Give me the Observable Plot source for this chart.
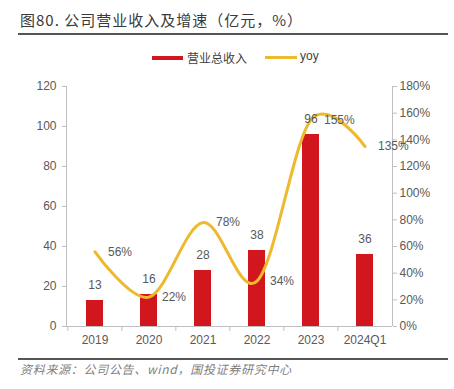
<!DOCTYPE html>
<html>
<head>
<meta charset="utf-8">
<script src="https://cdn.jsdelivr.net/npm/d3@7"></script>
<script src="https://cdn.jsdelivr.net/npm/@observablehq/plot@0.6"></script>
<style>
  html, body { margin: 0; padding: 0; background: #fff; }
  body { width: 454px; height: 389px; position: relative; overflow: hidden; font-family: "Noto Sans CJK SC", "Liberation Sans", sans-serif; }
  #title { position: absolute; left: 20px; top: 9px; font-size: 15px; color: #3a3a3a; letter-spacing: 1px; white-space: nowrap; }
  #rule1 { position: absolute; left: 18px; width: 430px; top: 33px; height: 2px; background: #555; }
  #legend { position: absolute; left: 0; width: 454px; top: 50px; height: 16px; font-size: 12px; color: #404040; }
  .sw { position: absolute; height: 4px; top: 6px; }
  .lt { position: absolute; top: -1px; white-space: nowrap; }
  #chart { position: absolute; left: 0; top: 70px; }
  #rule2 { position: absolute; left: 18px; width: 430px; top: 358px; height: 2px; background: #555; }
  #source { position: absolute; left: 20px; top: 360px; font-size: 12px; font-style: italic; color: #7f7f7f; white-space: nowrap; letter-spacing: 0.7px; }
</style>
</head>
<body>
<div id="title">图80. 公司营业收入及增速（亿元，%）</div>
<div id="rule1"></div>
<div id="legend">
  <div class="sw" style="left:152px;width:31px;background:#D2161E;"></div>
  <div class="lt" style="left:187px;">营业总收入</div>
  <div class="sw" style="left:265px;width:32px;background:#EDB92E;height:3px;"></div>
  <div class="lt" style="left:300px;font-family:'Liberation Sans',Arial,sans-serif;font-size:12px;">yoy</div>
</div>
<div id="chart"></div>
<div id="rule2"></div>
<div id="source">资料来源：公司公告、wind，国投证券研究中心</div>
<script>
const years = ["2019", "2020", "2021", "2022", "2023", "2024Q1"];
const revenue = [13, 16, 28, 38, 96, 36];
const yoy = [56, 22, 78, 34, 155, 135];
const leftTicks = [0, 20, 40, 60, 80, 100, 120];
const rightTicks = [0, 20, 40, 60, 80, 100, 120, 140, 160, 180];

const k = 120 / 180;
const data = years.map((y, i) => ({year: y, rev: revenue[i], yoy: yoy[i], yoyS: yoy[i] * k}));

const W = 454, H = 282, mL = 66, mR = 62, mT = 16, mB = 26;
const innerW = W - mL - mR;
const step = innerW / years.length;
const font = "'Liberation Sans', Arial, sans-serif";
const grey = "#595959";
const axisGrey = "#bfbfbf";

const chart = Plot.plot({
  width: W, height: H,
  marginLeft: mL, marginRight: mR, marginTop: mT, marginBottom: mB,
  style: {fontFamily: font, fontSize: "12px", color: grey, background: "transparent"},
  x: {domain: years, paddingInner: 0.69, paddingOuter: 0.345},
  y: {domain: [0, 120]},
  marks: [
    Plot.barY(data, {x: "year", y: "rev", fill: "#D2161E"}),
    // left and right axis lines
    Plot.ruleX([0], {x: null, y1: 0, y2: 120, stroke: axisGrey, dx: -innerW / 2}),
    Plot.ruleX([0], {x: null, y1: 0, y2: 120, stroke: axisGrey, dx: innerW / 2}),
    Plot.axisY({ticks: leftTicks, tickSize: 4, tickPadding: 6, stroke: axisGrey, fill: grey, fontSize: 12, label: null}),
    Plot.axisY({anchor: "right", ticks: rightTicks.map(v => v * k), tickFormat: d => Math.round(d / k) + "%", tickSize: 4, tickPadding: 3, stroke: axisGrey, fill: grey, fontSize: 12, label: null}),
    // x axis baseline and boundary ticks
    Plot.ruleY([0], {stroke: axisGrey}),
    Plot.axisX({ticks: years, tickSize: 5, tickFormat: () => "", dx: -step / 2, stroke: axisGrey, label: null}),
    Plot.axisX({ticks: years, tickSize: 0, tickPadding: 9, fill: grey, fontSize: 12, label: null}),
    // yoy line
    Plot.line(data, {x: "year", y: "yoyS", stroke: "#EDB92E", strokeWidth: 3, curve: d3.curveCatmullRom.alpha(0)}),
    // labels
    Plot.text(data, {x: "year", y: "rev", text: d => String(d.rev), dy: -15, fill: grey, fontSize: 12}),
    Plot.text(data, {x: "year", y: "yoyS", text: d => d.yoy + "%", dx: 13, textAnchor: "start", fill: grey, fontSize: 12})
  ]
});
document.getElementById("chart").appendChild(chart);
</script>
</body>
</html>
